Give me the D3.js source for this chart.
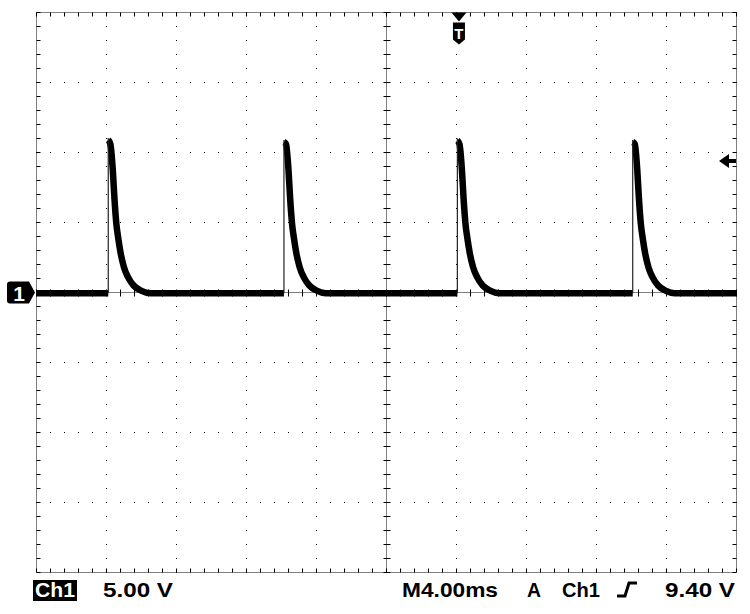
<!DOCTYPE html>
<html>
<head>
<meta charset="utf-8">
<script src="https://cdn.jsdelivr.net/npm/d3@7"></script>
<style>
  html, body { margin: 0; padding: 0; background: #fff; }
  svg { display: block; }
</style>
</head>
<body>
<div id="scope"></div>
<script>
// scope settings
const timePerDiv = 4;      // ms/div
const voltsPerDiv = 5;     // V/div
const triggerTime = 24.14; // ms, screen time of the T marker
const triggerLevel = 9.4;  // V

// trace (screen time in ms, volts)
const baseVolt = -0.05;
const riseTimes = [4.10, 14.14, 24.05, 34.07];
const peakVolts = [10.9, 10.75, 10.85, 10.75];
const decayDt = [0.12, 0.26, 0.35, 0.46, 0.58, 0.71, 0.9, 1.13, 1.45, 1.9, 2.4];
const decayVolts = [10.6, 8.75, 6.8, 4.95, 3.8, 2.8, 1.8, 1.1, 0.5, 0.12, -0.05];

// readout labels
const chLabel = "Ch1";
const voltLabel = "5.00 V";
const timeLabel = "M4.00ms";
const modeLabel = "A";
const trigSrcLabel = "Ch1";
const trigLevelLabel = "9.40 V";

const W = 750, H = 614;
const FONT = "'Liberation Sans', Arial, sans-serif";

const svg = d3.select("#scope").append("svg")
	.attr("width", W)
	.attr("height", H);

svg.append("rect").attr("width", W).attr("height", H).attr("fill", "#fff");

const x = d3.scaleLinear().domain([0, 10 * timePerDiv]).range([36.5, 736.5]);
const y = d3.scaleLinear().domain([-4 * voltsPerDiv, 4 * voltsPerDiv]).range([572.5, 12.5]);

const pLeft = x(0), pRight = x(10 * timePerDiv);
const pTop = y(4 * voltsPerDiv), pBottom = y(-4 * voltsPerDiv);
const minorT = timePerDiv / 5, minorV = voltsPerDiv / 5;

// graticule
const grid = svg.append("g").attr("stroke", "#000").attr("stroke-width", 1);

// plain dotted divisions
d3.range(1, 10).filter(i => i !== 5).forEach(i => {
	const gx = x(i * timePerDiv);
	grid.append("line")
		.attr("x1", gx).attr("x2", gx).attr("y1", pTop - 0.5).attr("y2", pBottom)
		.attr("stroke-dasharray", "1,13");
});
d3.range(1, 8).filter(j => j !== 4).forEach(j => {
	const gy = y(-4 * voltsPerDiv + j * voltsPerDiv);
	grid.append("line")
		.attr("y1", gy).attr("y2", gy).attr("x1", pLeft - 0.5).attr("x2", pRight)
		.attr("stroke-dasharray", "1,13");
});

// border and centre cross, fine dots
const cx = x(5 * timePerDiv), cy = y(0);
[pLeft, pRight, cx].forEach(a => {
	grid.append("line").attr("x1", a).attr("x2", a).attr("y1", pTop).attr("y2", pBottom)
		.attr("stroke-dasharray", "1,1");
});
[pTop, pBottom, cy].forEach(b => {
	grid.append("line").attr("y1", b).attr("y2", b).attr("x1", pLeft).attr("x2", pRight)
		.attr("stroke-dasharray", "1,1");
});

// minor ticks
const tTicks = d3.range(0, 10 * timePerDiv + 0.001, minorT);
const vTicks = d3.range(-4 * voltsPerDiv, 4 * voltsPerDiv + 0.001, minorV);
tTicks.forEach(t => {
	const tx = x(t);
	grid.append("line").attr("x1", tx).attr("x2", tx).attr("y1", pTop).attr("y2", pTop + 4);
	grid.append("line").attr("x1", tx).attr("x2", tx).attr("y1", pBottom).attr("y2", pBottom - 4);
	grid.append("line").attr("x1", tx).attr("x2", tx).attr("y1", cy - 3).attr("y2", cy + 4);
});
vTicks.forEach(v => {
	const ty = y(v);
	grid.append("line").attr("y1", ty).attr("y2", ty).attr("x1", pLeft).attr("x2", pLeft + 4);
	grid.append("line").attr("y1", ty).attr("y2", ty).attr("x1", pRight).attr("x2", pRight - 4);
	grid.append("line").attr("y1", ty).attr("y2", ty).attr("x1", cx - 3).attr("x2", cx + 4);
});

// trace
const trace = [[0, baseVolt]];
riseTimes.forEach((t0, i) => {
	trace.push([t0, baseVolt]);
	trace.push(null);
	trace.push([t0, peakVolts[i]]);
	decayDt.forEach((dt, k) => trace.push([t0 + dt, decayVolts[k]]));
});
trace.push([10 * timePerDiv, baseVolt]);

const line = d3.line()
	.defined(d => d !== null)
	.x(d => x(d[0]))
	.y(d => y(d[1]))
	.curve(d3.curveMonotoneX);

svg.append("path")
	.datum(trace)
	.attr("fill", "none")
	.attr("stroke", "#000")
	.attr("stroke-width", 6.5)
	.attr("stroke-linejoin", "round")
	.attr("d", line);

// thin rising edges
svg.append("g").selectAll("line")
	.data(riseTimes)
	.join("line")
	.attr("x1", d => x(d)).attr("x2", d => x(d))
	.attr("y1", y(baseVolt)).attr("y2", (d, i) => y(peakVolts[i]) - 2)
	.attr("stroke", "#222")
	.attr("stroke-width", 1.2);

// channel ground marker
const gy0 = y(0);
const marker = svg.append("g");
marker.append("path")
	.attr("d", `M10,${gy0 - 11} H29 L35,${gy0} L29,${gy0 + 11} H10 Q7,${gy0 + 11} 7,${gy0 + 8} V${gy0 - 8} Q7,${gy0 - 11} 10,${gy0 - 11} Z`)
	.attr("fill", "#000");
marker.append("text")
	.attr("x", 19).attr("y", gy0 + 8)
	.attr("text-anchor", "middle")
	.attr("font-family", FONT).attr("font-weight", "bold").attr("font-size", 21)
	.attr("fill", "#fff")
	.text("1");

// trigger position marker
const tx0 = x(triggerTime);
const trig = svg.append("g");
trig.append("path")
	.attr("d", `M${tx0 - 7.5},${pTop} H${tx0 + 7.5} L${tx0},${pTop + 9} Z`)
	.attr("fill", "#000");
trig.append("path")
	.attr("d", `M${tx0 - 6},${pTop + 10} H${tx0 + 6} V${pTop + 27} L${tx0},${pTop + 32} L${tx0 - 6},${pTop + 27} Z`)
	.attr("fill", "#000");
trig.append("text")
	.attr("x", tx0).attr("y", pTop + 26)
	.attr("text-anchor", "middle")
	.attr("font-family", FONT).attr("font-weight", "bold").attr("font-size", 15)
	.attr("fill", "#fff")
	.text("T");

// trigger level arrow
const ty0 = y(triggerLevel);
svg.append("path")
	.attr("d", `M719,${ty0} L729,${ty0 - 7} V${ty0 - 2} H736 V${ty0 + 2} H729 V${ty0 + 7} Z`)
	.attr("fill", "#000");

// readout line
const base = 597;
const txt = (s, x0, len) => svg.append("text")
	.attr("x", x0).attr("y", base)
	.attr("font-family", FONT).attr("font-weight", "bold").attr("font-size", 21)
	.attr("textLength", len).attr("lengthAdjust", "spacingAndGlyphs")
	.attr("fill", "#000")
	.text(s);

svg.append("rect").attr("x", 33).attr("y", 580).attr("width", 44).attr("height", 21).attr("fill", "#000");
txt(chLabel, 35, 40).attr("fill", "#fff");
txt(voltLabel, 103, 70);
txt(timeLabel, 402, 96);
txt(modeLabel, 527, 14);
txt(trigSrcLabel, 562, 38);
svg.append("path")
	.attr("d", `M617,${base - 1} H625 L629,${base - 14} H637`)
	.attr("fill", "none").attr("stroke", "#000").attr("stroke-width", 3);
txt(trigLevelLabel, 665, 70);
</script>
</body>
</html>
